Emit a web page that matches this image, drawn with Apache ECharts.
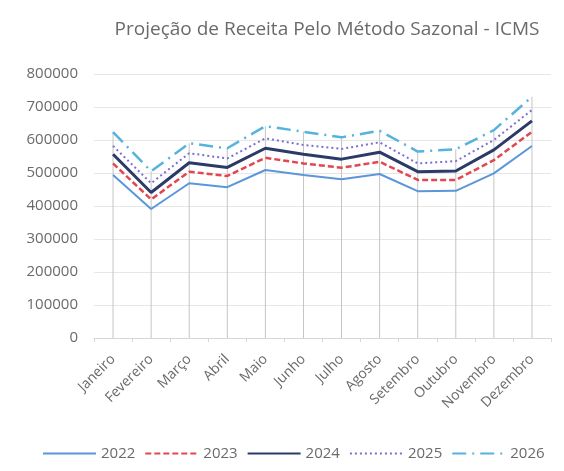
<!DOCTYPE html>
<html>
<head>
<meta charset="utf-8">
<script src="https://cdn.jsdelivr.net/npm/echarts@6/dist/echarts.min.js"></script>
<style>
  html, body { margin: 0; padding: 0; background: #fff; }
  #chart { width: 564px; height: 471px; }
</style>
</head>
<body>
<div id="chart"></div>
<script>
  const meses = ['Janeiro', 'Fevereiro', 'Março', 'Abril', 'Maio', 'Junho',
    'Julho', 'Agosto', 'Setembro', 'Outubro', 'Novembro', 'Dezembro']
  const anos = ['2022', '2023', '2024', '2025', '2026']
  const receita2022 = [494000, 391000, 469000, 457000, 509000, 494000, 481000, 497000, 445000, 446000, 499000, 582000]
  const receita2023 = [529000, 420000, 504000, 491000, 546000, 529000, 516000, 534000, 479000, 479000, 539000, 625000]
  const receita2024 = [557000, 441000, 531000, 517000, 575000, 557000, 542000, 563000, 504000, 506000, 570000, 658000]
  const receita2025 = [582000, 469000, 560000, 544000, 605000, 585000, 573000, 593000, 529000, 536000, 600000, 691000]
  const receita2026 = [624000, 505000, 590000, 575000, 642000, 625000, 608000, 628000, 565000, 572000, 630000, 731000]
  const yTicks = [0, 100000, 200000, 300000, 400000, 500000, 600000, 700000, 800000]

  const fonte = '"Open Sans", "Noto Sans", sans-serif'

  const chart = echarts.init(document.getElementById('chart'))

  // estilos de cada ano (parecido com o Excel)
  const estilos = [
    { color: '#5b97d8', width: 2, type: 'solid' },
    { color: '#e2474f', width: 2.5, type: [6, 3] },
    { color: '#2b3a67', width: 3, type: 'solid' },
    { color: '#7b6fd0', width: 2, type: [2, 3] },
    { color: '#55b3dc', width: 2.5, type: [14, 6, 2, 6] }
  ]
  const valores = [receita2022, receita2023, receita2024, receita2025, receita2026]

  const series = anos.map(function(ano, i) {
    return {
      name: ano,
      type: 'line',
      data: valores[i],
      symbol: 'none',
      z: 3,
      lineStyle: estilos[i],
      itemStyle: { color: estilos[i].color }
    }
  })

  // linhas verticais (drop lines) até o ponto mais alto
  series.unshift({
    name: 'drop',
    type: 'bar',
    data: receita2026,
    barWidth: 1,
    silent: true,
    z: 1,
    itemStyle: { color: '#c4c4c4' }
  })

  chart.setOption({
    animation: false,
    title: {
      text: 'Projeção de Receita Pelo Método Sazonal - ICMS',
      left: 322,
      top: 15,
      textAlign: 'center',
      textStyle: {
        fontFamily: fonte,
        fontSize: 19,
        fontWeight: 'normal',
        color: '#6a6a6a'
      }
    },
    legend: {
      data: anos,
      top: 441,
      left: 37,
      itemWidth: 53,
      itemHeight: 12,
      itemGap: 9,
      itemStyle: { opacity: 0 },
      textStyle: { fontFamily: fonte, fontSize: 15, color: '#6a6a6a' }
    },
    grid: {
      left: 94,
      right: 13,
      top: 74,
      bottom: 133
    },
    xAxis: {
      type: 'category',
      data: meses,
      boundaryGap: true,
      axisLine: { lineStyle: { color: '#d6d6d6' } },
      axisTick: { show: true, length: 4, lineStyle: { color: '#d6d6d6' } },
      axisLabel: {
        rotate: 45,
        interval: 0,
        margin: 19,
        fontFamily: fonte,
        fontSize: 14,
        color: '#6a6a6a'
      }
    },
    yAxis: {
      type: 'value',
      min: yTicks[0],
      max: yTicks[yTicks.length - 1],
      interval: 100000,
      axisLine: { show: false },
      axisTick: { show: false },
      axisLabel: {
        margin: 16,
        fontFamily: fonte,
        fontSize: 15,
        color: '#6a6a6a',
        formatter: function(v) { return String(v) }
      },
      splitLine: { lineStyle: { color: '#e6e6e6' } }
    },
    series: series
  })
</script>
</body>
</html>
